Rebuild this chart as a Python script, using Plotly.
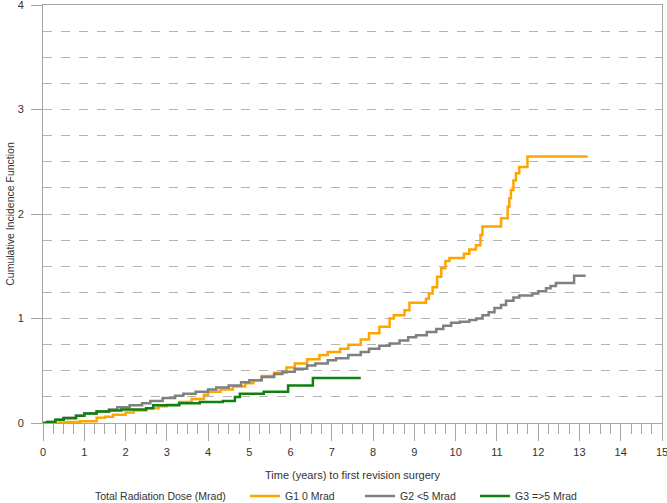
import plotly.graph_objects as go

# ---- data ----
g1_t = [0, 0.4, 0.6, 0.9, 1.3, 1.5, 1.7, 2.0, 2.2, 2.5, 2.8, 3.0, 3.3, 3.6, 3.9, 4.0, 4.3, 4.6, 4.9,
        5.1, 5.3, 5.6, 5.9, 6.1, 6.4, 6.7, 6.9, 7.2, 7.4, 7.7, 7.9, 8.15, 8.4, 8.5, 8.76, 8.88, 9.28,
        9.35, 9.44, 9.55, 9.65, 9.75, 9.85, 10.2, 10.33, 10.49, 10.6, 10.65, 11.1, 11.26, 11.3, 11.34,
        11.4, 11.46, 11.54, 11.74, 13.2]
g1_v = [0, 0.005, 0.01, 0.016, 0.05, 0.06, 0.08, 0.10, 0.12, 0.14, 0.16, 0.175, 0.20, 0.23, 0.27, 0.30,
        0.32, 0.35, 0.38, 0.41, 0.45, 0.48, 0.53, 0.57, 0.61, 0.65, 0.68, 0.71, 0.75, 0.80, 0.86, 0.92,
        1.00, 1.03, 1.08, 1.15, 1.19, 1.24, 1.30, 1.40, 1.48, 1.55, 1.58, 1.62, 1.66, 1.70, 1.80, 1.88,
        1.96, 2.07, 2.15, 2.23, 2.32, 2.39, 2.45, 2.55, 2.55]

g2_t = [0, 0.1, 0.3, 0.5, 0.8, 1.0, 1.3, 1.6, 1.8, 2.1, 2.4, 2.6, 2.9, 3.2, 3.4, 3.7, 4.0, 4.2, 4.5,
        4.8, 5.0, 5.3, 5.6, 5.8, 6.1, 6.4, 6.6, 6.9, 7.1, 7.4, 7.7, 7.9, 8.15, 8.4, 8.64, 8.85, 9.04,
        9.3, 9.53, 9.7, 9.89, 10.1, 10.33, 10.5, 10.65, 10.8, 10.94, 11.1, 11.22, 11.4, 11.54, 11.86,
        12.0, 12.19, 12.3, 12.43, 12.71, 12.87, 13.15]
g2_v = [0, 0.01, 0.03, 0.05, 0.07, 0.09, 0.11, 0.13, 0.15, 0.17, 0.19, 0.21, 0.24, 0.26, 0.28, 0.30,
        0.32, 0.34, 0.36, 0.39, 0.41, 0.44, 0.47, 0.49, 0.52, 0.55, 0.57, 0.60, 0.62, 0.65, 0.68, 0.71,
        0.74, 0.76, 0.79, 0.82, 0.84, 0.87, 0.90, 0.93, 0.96, 0.97, 0.985, 1.00, 1.03, 1.06, 1.10, 1.13,
        1.17, 1.20, 1.22, 1.24, 1.26, 1.29, 1.31, 1.34, 1.34, 1.41, 1.41]

g3_t = [0, 0.1, 0.3, 0.5, 0.8, 1.0, 1.3, 1.6, 1.9, 2.5, 2.67, 3.3, 3.8, 4.36, 4.65, 4.77, 5.35, 5.94,
        6.54, 7.7]
g3_v = [0, 0.01, 0.03, 0.045, 0.07, 0.09, 0.11, 0.12, 0.13, 0.14, 0.17, 0.19, 0.20, 0.21, 0.25, 0.28,
        0.30, 0.36, 0.43, 0.43]

names = ["G1 0 Mrad", "G2 <5 Mrad", "G3 =>5 Mrad"]
colors = ["#FFA500", "#808080", "#108010"]
legend_title = "Total Radiation Dose (Mrad)"

x_ticks = list(range(0, 16))
y_ticks = [0, 1, 2, 3, 4]

FONT = "Liberation Sans, Arial, sans-serif"
TXT = "#333333"
AX = "#A6A6A6"

W, H = 667, 503
ML, MR, MT, MB = 43, 5, 5, 80
PW, PH = W - ML - MR, H - MT - MB

fig = go.Figure()
for t, v, n, c in zip([g1_t, g2_t, g3_t], [g1_v, g2_v, g3_v], names, colors):
    fig.add_trace(go.Scatter(x=t, y=v, mode="lines", name=n,
                             line=dict(color=c, width=2.5, shape="hv")))

fig.add_annotation(text=legend_title, xref="paper", yref="paper",
                   x=(228 - ML) / PW, xanchor="right", y=(H - MB - 496) / PH, yanchor="middle",
                   showarrow=False, font=dict(size=10.5, color=TXT))

fig.update_layout(
    width=W, height=H,
    margin=dict(l=ML, r=MR, t=MT, b=MB, autoexpand=False),
    paper_bgcolor="white", plot_bgcolor="white",
    font=dict(family=FONT, size=11, color=TXT),
    showlegend=True,
    legend=dict(orientation="h", x=(245 - ML) / PW, xanchor="left", y=(H - MB - 496) / PH,
                yanchor="middle", itemwidth=30, entrywidthmode="pixels", entrywidth=70,
                font=dict(size=10.5, color=TXT), traceorder="normal"),
    xaxis=dict(range=[0, 15], tickvals=x_ticks, ticktext=[str(v) for v in x_ticks],
               showline=True, linecolor=AX, linewidth=1, mirror=True, automargin=False,
               ticks="outside", ticklen=17, tickcolor=AX, showgrid=False, zeroline=False,
               ticklabelstandoff=2, ticklabeloverflow="allow",
               minor=dict(dtick=0.25, ticks="outside", ticklen=10, tickcolor=AX, showgrid=False),
               title=dict(text="Time (years) to first revision surgery", standoff=14,
                          font=dict(size=11, color=TXT))),
    yaxis=dict(range=[0, 4], tickvals=y_ticks, ticktext=[str(v) for v in y_ticks],
               showline=True, linecolor=AX, linewidth=1, mirror=True, automargin=False,
               ticks="outside", ticklen=11, tickcolor=AX, zeroline=False, ticklabeloverflow="allow",
               ticklabelstandoff=5,
               showgrid=True, gridcolor="#B4B4B4", griddash="dash", gridwidth=1,
               minor=dict(dtick=0.25, showgrid=True, gridcolor="#B4B4B4", griddash="dash", ticks=""),
               title=dict(text="Cumulative Incidence Function", standoff=0,
                          font=dict(size=10.5, color=TXT))),
)

fig.write_html("out.html", config={"displayModeBar": False},
               post_script="document.body.style.margin='0';")
